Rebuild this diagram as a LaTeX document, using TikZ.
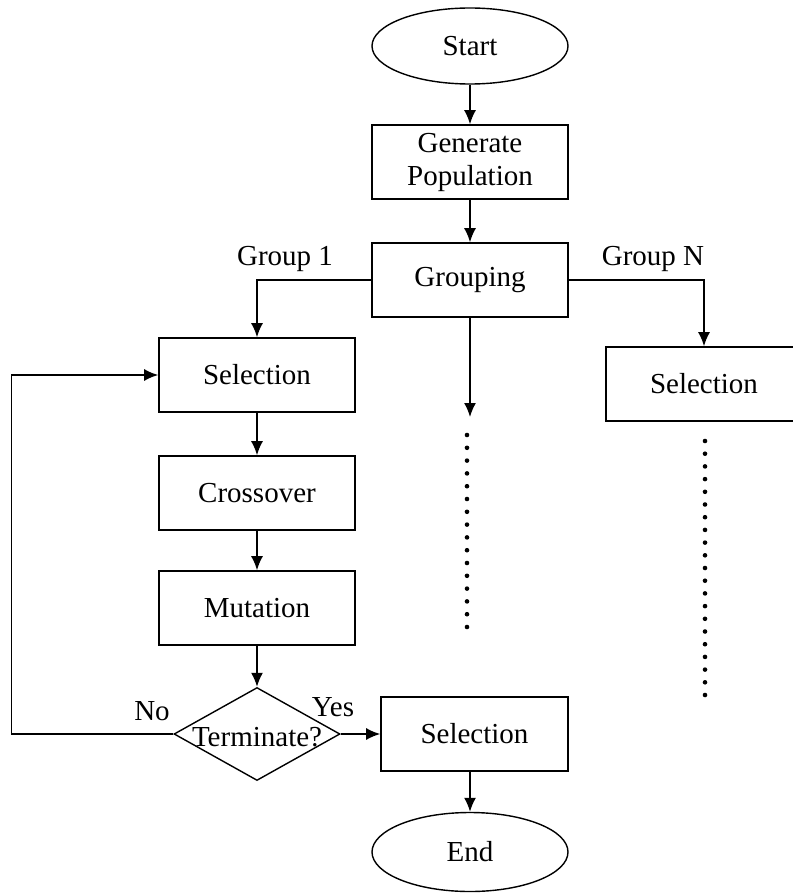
\documentclass[tikz,border=0pt]{standalone}
\usepackage{fontspec}
\setmainfont{Liberation Serif}
\usetikzlibrary{arrows,arrows.meta,shapes.geometric}

\tikzset{
	block/.style={draw, rectangle, line width=0.8pt, minimum width=98pt, minimum height=37pt, align=center},
	term/.style={draw, ellipse, line width=0.7pt, minimum width=98pt, minimum height=38pt},
	decide/.style={draw, diamond, line width=0.7pt, minimum width=83pt, minimum height=46.5pt, inner sep=0pt},
	flow/.style={line width=0.8pt, -{Latex[length=7pt,width=6pt]}},
	dot/.style={fill=black, inner sep=0pt, minimum size=2.3pt, circle}
}

\begin{document}
\begin{tikzpicture}[x=0.5pt, y=-0.5pt, font=\fontsize{14.5pt}{16.5pt}\selectfont]
		\useasboundingbox (0,0) rectangle (792,893);
		% main column
		\node[term] (start) at (470,46) {Start};
		\node[block] (gen) at (470,162) {Generate\\Population};
		\node[block] (group) at (470,280) {Grouping};
		% group 1 branch
		\node[block] (sel1) at (257,375) {Selection};
		\node[block] (cross) at (257,493) {Crossover};
		\node[block] (mut) at (257,608) {Mutation};
		\node[decide] (stop) at (257,734) {};
		\node at (257,737) {Terminate?};
		\node[block, minimum width=93.5pt] (best) at (474.5,734) {Selection};
		\node[term, minimum height=39.5pt] (finish) at (470,852) {End};
		% group N branch
		\node[block] (selN) at (704,384) {Selection};
		\coordinate (mid) at (470,417);
		% labels
		\node (g1) at (285,259) {Group 1};
		\node (gN) at (653,259) {Group N};
		\node (no) at (152,711) {No};
		\node (yes) at (333,707) {Yes};
		% connectors
		\draw[flow] (start) -- (gen);
		\draw[flow] (gen) -- (group);
		\draw[flow] (group.west) -| (sel1.north);
		\draw[flow] (group.east) -| (selN.north);
		\draw[flow] (group.south) -- (mid);
		\draw[flow] (sel1) -- (cross);
		\draw[flow] (cross) -- (mut);
		\draw[flow] (mut.south) -- (stop.north);
		\draw[flow] (stop.west) -- ++(-162,0) |- (sel1.west);
		\draw[flow] (stop.east) -- (best.west);
		\draw[flow] (best.south -| finish.north) -- (finish.north);
		% dotted continuations
		\foreach \k in {0,...,15} % middle groups
		\node[dot] (m\k) at (467,435+\k*12.8) {};
		\foreach \k in {0,...,20} % group N
		\node[dot] (n\k) at (705,441+\k*12.7) {};
\end{tikzpicture}
\end{document}
